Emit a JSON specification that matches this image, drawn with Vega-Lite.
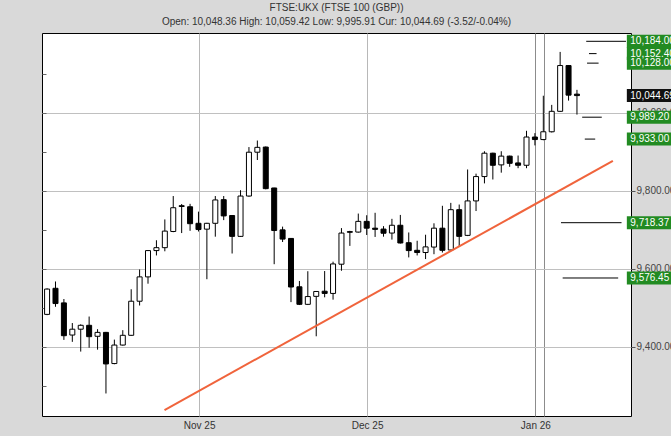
{
  "$schema": "https://vega.github.io/schema/vega-lite/v6.json",
  "width": 589,
  "height": 383,
  "autosize": {"type": "none"},
  "padding": {"left": 42, "top": 33, "right": 40, "bottom": 20},
  "background": "#d9d9d9",
  "title": {
    "text": "FTSE:UKX (FTSE 100 (GBP))",
    "subtitle": "Open: 10,048.36 High: 10,059.42 Low: 9,995.91 Cur: 10,044.69 (-3.52/-0.04%)",
    "anchor": "middle",
    "font": "Liberation Sans",
    "fontSize": 10,
    "fontWeight": "normal",
    "color": "#333333",
    "subtitleFont": "Liberation Sans",
    "subtitleFontSize": 10,
    "subtitleColor": "#333333",
    "subtitlePadding": 4,
    "offset": 6
  },
  "config": {
    "view": {"fill": "white", "stroke": "black", "strokeWidth": 1},
    "font": "Liberation Sans"
  },
  "datasets": {
    "ohlc": [
      {"i": 0, "o": 9483, "h": 9550, "l": 9481, "c": 9548},
      {"i": 1, "o": 9550, "h": 9567.5, "l": 9502.5, "c": 9510.8},
      {"i": 2, "o": 9512.5, "h": 9522.5, "l": 9417.5, "c": 9428.3},
      {"i": 3, "o": 9430, "h": 9460.8, "l": 9412.5, "c": 9445},
      {"i": 4, "o": 9445, "h": 9457.5, "l": 9387.5, "c": 9455},
      {"i": 5, "o": 9455, "h": 9477.5, "l": 9397.5, "c": 9425.8},
      {"i": 6, "o": 9426.8, "h": 9445, "l": 9392.5, "c": 9436.8},
      {"i": 7, "o": 9436.8, "h": 9438, "l": 9280, "c": 9355.8},
      {"i": 8, "o": 9356.8, "h": 9418.3, "l": 9355, "c": 9404.3},
      {"i": 9, "o": 9404.3, "h": 9442.5, "l": 9403, "c": 9429.3},
      {"i": 10, "o": 9429.3, "h": 9547.5, "l": 9428, "c": 9516.8},
      {"i": 11, "o": 9516.8, "h": 9598.3, "l": 9505.8, "c": 9579.3},
      {"i": 12, "o": 9579.3, "h": 9648, "l": 9561.8, "c": 9646.8},
      {"i": 13, "o": 9646.8, "h": 9673.3, "l": 9634.3, "c": 9654.3},
      {"i": 14, "o": 9654.3, "h": 9726.8, "l": 9645, "c": 9696.8},
      {"i": 15, "o": 9695.8, "h": 9786.8, "l": 9694, "c": 9756.8},
      {"i": 16, "o": 9762, "h": 9766.3, "l": 9691.8, "c": 9760},
      {"i": 17, "o": 9759.3, "h": 9766.8, "l": 9697.5, "c": 9715.8},
      {"i": 18, "o": 9716.8, "h": 9746.8, "l": 9695.8, "c": 9700.8},
      {"i": 19, "o": 9701.8, "h": 9718, "l": 9573.3, "c": 9716.8},
      {"i": 20, "o": 9716.8, "h": 9786.8, "l": 9682.5, "c": 9776.8},
      {"i": 21, "o": 9777.5, "h": 9786.8, "l": 9725, "c": 9735.8},
      {"i": 22, "o": 9736.8, "h": 9737, "l": 9639.3, "c": 9683.3},
      {"i": 23, "o": 9683.3, "h": 9801.8, "l": 9682, "c": 9786.8},
      {"i": 24, "o": 9786.8, "h": 9912.5, "l": 9785, "c": 9899.3},
      {"i": 25, "o": 9899.3, "h": 9929.3, "l": 9879.3, "c": 9911.8},
      {"i": 26, "o": 9912.5, "h": 9914, "l": 9804, "c": 9805.8},
      {"i": 27, "o": 9807.5, "h": 9808, "l": 9611.8, "c": 9698.3},
      {"i": 28, "o": 9700, "h": 9708.3, "l": 9668.8, "c": 9676.3},
      {"i": 29, "o": 9678, "h": 9679, "l": 9514.5, "c": 9553.3},
      {"i": 30, "o": 9553.8, "h": 9568.8, "l": 9507, "c": 9508.8},
      {"i": 31, "o": 9508.8, "h": 9593.8, "l": 9507, "c": 9528.8},
      {"i": 32, "o": 9529.3, "h": 9543, "l": 9426.8, "c": 9541.8},
      {"i": 33, "o": 9542.5, "h": 9594.3, "l": 9526.8, "c": 9536.8},
      {"i": 34, "o": 9536.8, "h": 9618.3, "l": 9520.8, "c": 9612.5},
      {"i": 35, "o": 9611.8, "h": 9704.5, "l": 9595, "c": 9691.8},
      {"i": 36, "o": 9695.5, "h": 9697.5, "l": 9658.8, "c": 9693.8},
      {"i": 37, "o": 9694.3, "h": 9741.8, "l": 9693, "c": 9721.8},
      {"i": 38, "o": 9721.8, "h": 9737.5, "l": 9686.8, "c": 9704.3},
      {"i": 39, "o": 9704.3, "h": 9743.8, "l": 9681.8, "c": 9701.3},
      {"i": 40, "o": 9702, "h": 9709.5, "l": 9682.5, "c": 9691.3},
      {"i": 41, "o": 9691.8, "h": 9728.3, "l": 9675, "c": 9711.8},
      {"i": 42, "o": 9711.8, "h": 9738.3, "l": 9665, "c": 9666.3},
      {"i": 43, "o": 9667, "h": 9693.3, "l": 9629.3, "c": 9646.8},
      {"i": 44, "o": 9647.5, "h": 9672, "l": 9634.3, "c": 9641.8},
      {"i": 45, "o": 9641.8, "h": 9687.5, "l": 9625, "c": 9656.3},
      {"i": 46, "o": 9655.8, "h": 9716.8, "l": 9637.5, "c": 9704.3},
      {"i": 47, "o": 9704.3, "h": 9761.8, "l": 9641.8, "c": 9647.5},
      {"i": 48, "o": 9648.3, "h": 9769.3, "l": 9647, "c": 9751.8},
      {"i": 49, "o": 9751.8, "h": 9765, "l": 9656.8, "c": 9683.3},
      {"i": 50, "o": 9685.8, "h": 9855, "l": 9684, "c": 9774.3},
      {"i": 51, "o": 9774.3, "h": 9844.3, "l": 9748.3, "c": 9836.8},
      {"i": 52, "o": 9836.8, "h": 9901.8, "l": 9819.3, "c": 9896.8},
      {"i": 53, "o": 9896.8, "h": 9898, "l": 9829.3, "c": 9865.8},
      {"i": 54, "o": 9866.8, "h": 9901.8, "l": 9846.8, "c": 9889.3},
      {"i": 55, "o": 9889.3, "h": 9890.5, "l": 9861.8, "c": 9870.8},
      {"i": 56, "o": 9871.8, "h": 9890.8, "l": 9858.3, "c": 9865.8},
      {"i": 57, "o": 9865.8, "h": 9954.3, "l": 9858.3, "c": 9938.3},
      {"i": 58, "o": 9938.3, "h": 9948.3, "l": 9916.8, "c": 9931.8},
      {"i": 59, "o": 9931.8, "h": 10044.3, "l": 9930, "c": 9951.8},
      {"i": 60, "o": 9951.8, "h": 10020.8, "l": 9950, "c": 10004.3},
      {"i": 61, "o": 10004.3, "h": 10156.8, "l": 10003, "c": 10121.8},
      {"i": 62, "o": 10121.8, "h": 10123, "l": 10031.8, "c": 10045.8},
      {"i": 63, "o": 10048.36, "h": 10059.42, "l": 9995.91, "c": 10044.69}
    ],
    "trend": [
      {"i": 13.96, "p": 9237.5},
      {"i": 67.27, "p": 9876.8}
    ],
    "targets": [
      {"p": 10184, "a": 64.1, "b": 68.83},
      {"p": 10152.4, "a": 64.43, "b": 65.33},
      {"p": 10128, "a": 64.2, "b": 65.57},
      {"p": 9989.2, "a": 63.62, "b": 65.95},
      {"p": 9933, "a": 63.93, "b": 65.17},
      {"p": 9718.37, "a": 61.1, "b": 68.3},
      {"p": 9576.45, "a": 61.3, "b": 67.9}
    ],
    "labels": [
      {"p": 10184, "t": "10,184.00", "k": "g"},
      {"p": 10152.4, "t": "10,152.40", "k": "g"},
      {"p": 10128, "t": "10,128.00", "k": "g"},
      {"p": 10044.69, "t": "10,044.69", "k": "b"},
      {"p": 9989.2, "t": "9,989.20", "k": "g"},
      {"p": 9933, "t": "9,933.00", "k": "g"},
      {"p": 9718.37, "t": "9,718.37", "k": "g"},
      {"p": 9576.45, "t": "9,576.45", "k": "g"}
    ]
  },
  "layer": [
    {
      "data": {"name": "ohlc"},
      "mark": {"type": "rule", "color": "black", "strokeWidth": 1, "clip": true},
      "encoding": {
        "x": {
          "field": "i", "type": "quantitative",
          "scale": {"domain": [-0.01, 68.83], "nice": false, "zero": false},
          "axis": {
            "values": [18.08, 38.05, 58.05, 59.12],
            "grid": true,
            "gridColor": {"condition": {"test": "datum.value > 58", "value": "#8c8c8c"}, "value": "#b8b8b8"},
            "ticks": false,
            "domain": false,
            "labelExpr": "datum.value < 20 ? 'Nov 25' : datum.value < 40 ? 'Dec 25' : datum.value < 59 ? 'Jan 26' : ''",
            "labelFontSize": 10,
            "labelColor": "#333333",
            "labelPadding": 4,
            "title": null
          }
        },
        "y": {
          "field": "l", "type": "quantitative",
          "scale": {"domain": [9235, 10192.5], "nice": false, "zero": false},
          "axis": {
            "orient": "right",
            "values": [9400, 9600, 9800, 10000],
            "format": ",.2f",
            "grid": true,
            "gridColor": "#c0c0c0",
            "domain": false,
            "tickSize": 4,
            "tickColor": "#555555",
            "labelPadding": 1,
            "labelFontSize": 10,
            "labelColor": "#444444",
            "title": null
          }
        },
        "y2": {"field": "h"}
      }
    },
    {
      "data": {"name": "ohlc"},
      "mark": {"type": "bar", "size": 5, "stroke": "black", "strokeWidth": 1, "clip": true},
      "encoding": {
        "x": {"field": "i", "type": "quantitative", "scale": {"domain": [-0.01, 68.83], "nice": false, "zero": false}},
        "y": {
          "field": "o", "type": "quantitative",
          "scale": {"domain": [9235, 10192.5], "nice": false, "zero": false},
          "axis": {
            "orient": "left",
            "values": [9300, 9400, 9500, 9600, 9700, 9800, 9900, 10000, 10100],
            "labels": false,
            "grid": false,
            "domain": false,
            "tickSize": -4,
            "tickColor": "#666666",
            "title": null
          }
        },
        "y2": {"field": "c"},
        "fill": {"condition": {"test": "datum.c >= datum.o", "value": "white"}, "value": "black"}
      }
    },
    {
      "data": {"name": "trend"},
      "mark": {"type": "line", "color": "#f0643c", "strokeWidth": 2, "clip": true},
      "encoding": {
        "x": {"field": "i", "type": "quantitative"},
        "y": {"field": "p", "type": "quantitative", "axis": null}
      }
    },
    {
      "data": {"name": "targets"},
      "mark": {"type": "rule", "color": "black", "strokeWidth": 1},
      "encoding": {
        "x": {"field": "a", "type": "quantitative"},
        "x2": {"field": "b"},
        "y": {"field": "p", "type": "quantitative", "axis": null}
      }
    },
    {
      "data": {"name": "labels"},
      "mark": {"type": "bar", "size": 13, "clip": false},
      "encoding": {
        "x": {"datum": 68.93, "type": "quantitative"},
        "x2": {"datum": 80},
        "y": {"field": "p", "type": "quantitative", "axis": null},
        "color": {"condition": {"test": "datum.k == 'b'", "value": "#111111"}, "value": "#228b22"}
      }
    },
    {
      "data": {"name": "labels"},
      "mark": {"type": "text", "align": "left", "baseline": "middle", "fontSize": 10, "color": "white", "clip": false},
      "encoding": {
        "x": {"datum": 69.34, "type": "quantitative"},
        "y": {"field": "p", "type": "quantitative", "axis": null},
        "text": {"field": "t"}
      }
    }
  ],
  "resolve": {"axis": {"y": "independent"}}
}
